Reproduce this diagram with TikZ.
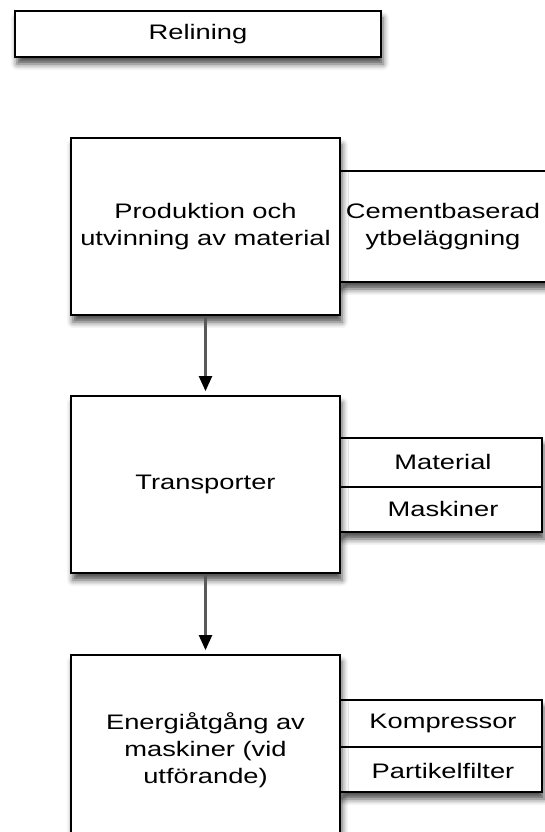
\documentclass[tikz,border=0pt]{standalone}
\usepackage{fontspec}
\setmainfont{Liberation Sans}[FakeStretch=1.3]
\usetikzlibrary{arrows.meta,shadows.blur}
\begin{document}
\begin{tikzpicture}[x=1pt,y=-1pt,
  boxshadow/.style={blur shadow={shadow xshift=2pt,shadow yshift=-7pt,shadow blur radius=6pt,shadow opacity=70}},
  mainbox/.style={draw=black,line width=1.7pt,fill=white,boxshadow},
  sidebox/.style={draw=black,line width=1.5pt,fill=white,boxshadow},
  lbl/.style={font=\fontsize{21}{27}\selectfont,align=center,text=black},
  conn/.style={draw=black!65,line width=2.2pt,-{Triangle[width=13pt,length=15pt,color=black]}}]
\useasboundingbox (0,0) rectangle (545,832);
% Relining
\node[mainbox,minimum width=366pt,minimum height=46pt,inner sep=0pt] (rel) at (198,34) {};
\node[lbl] (relt) at (198,34) {Relining};
% side boxes first (behind)
\path[sidebox] (340,171) rectangle (560,282);
\node[lbl] (cem) at (443,227) {Cementbaserad\\ytbeläggning};
\path[sidebox] (340,438) rectangle (542,532);
\draw[black,line width=1.3pt] (340,487) -- (542,487);
\node[lbl] (mat) at (443,462) {Material};
\node[lbl] (mas) at (443,509) {Maskiner};
\path[sidebox] (340,700) rectangle (542,792);
\draw[black,line width=1.3pt] (340,747) -- (542,747);
\node[lbl] (kom) at (443,723) {Kompressor};
\node[lbl] (par) at (443,771) {Partikelfilter};
% main boxes
\node[mainbox,minimum width=269pt,minimum height=177pt,inner sep=0pt] (prod) at (205.5,226.5) {};
\node[lbl] at (prod.center) {Produktion och\\utvinning av material};
\node[mainbox,minimum width=269pt,minimum height=177pt,inner sep=0pt] (trans) at (205.5,484.5) {};
\node[lbl] at (trans.center) {Transporter};
\node[mainbox,minimum width=269pt,minimum height=190pt,inner sep=0pt] (ener) at (205.5,750) {};
\node[lbl] at (ener.center) {Energiåtgång av\\maskiner (vid\\utförande)};
% connectors
\draw[conn] (prod.south) -- ([yshift=4pt]trans.north);
\draw[conn] (trans.south) -- ([yshift=4pt]ener.north);
\end{tikzpicture}
\end{document}
